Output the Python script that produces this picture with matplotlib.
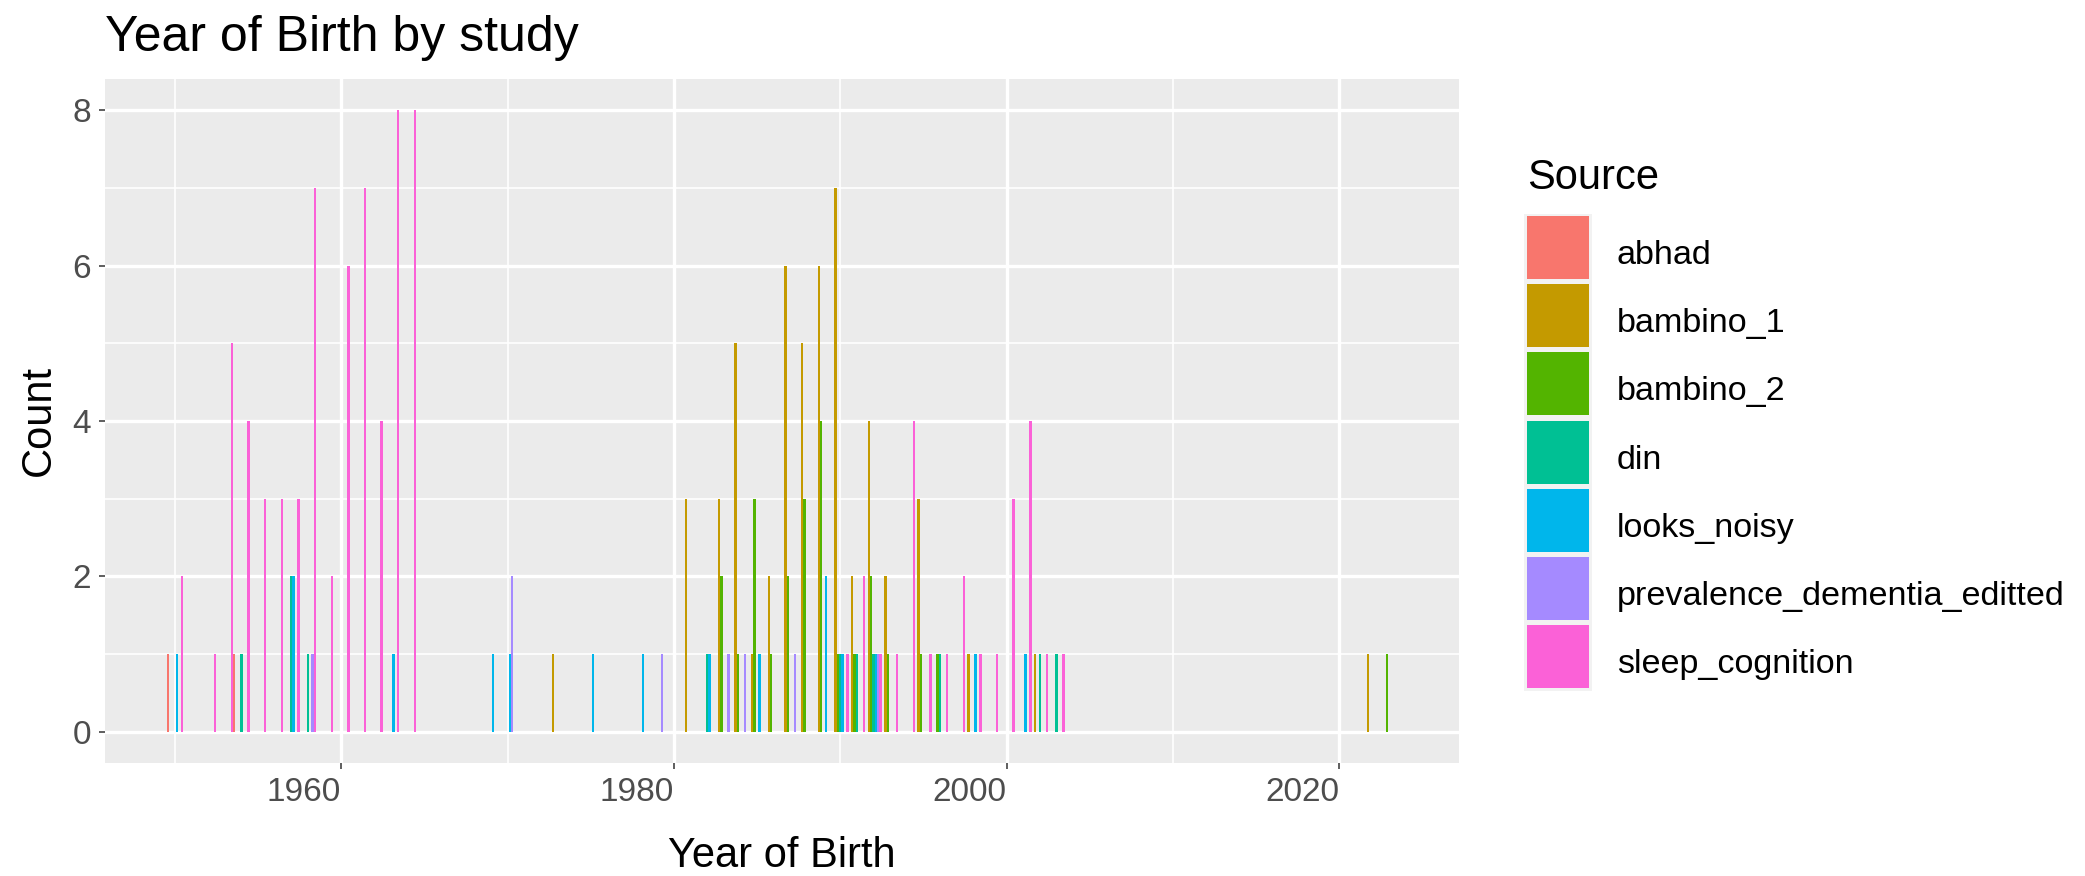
import numpy as np
import matplotlib
matplotlib.use('Agg')
import matplotlib.pyplot as plt
from matplotlib.patches import Rectangle

plt.rcParams['font.family'] = ['Liberation Sans', 'DejaVu Sans']

sources = ['abhad', 'bambino_1', 'bambino_2', 'din', 'looks_noisy',
           'prevalence_dementia_editted', 'sleep_cognition']
colors = ['#F8766D', '#C49A00', '#53B400', '#00C094', '#00B6EB', '#A58AFF', '#FB61D7']

# counts per year of birth, one pair of lists per source
abhad_years = [1950, 1954]
abhad_counts = [1, 1]

bambino1_years = [1973, 1981, 1983, 1984, 1985, 1986, 1987, 1988, 1989, 1990,
                  1991, 1992, 1993, 1995, 1998, 2002, 2022]
bambino1_counts = [1, 3, 3, 5, 1, 2, 6, 5, 6, 7, 2, 4, 2, 3, 1, 1, 1]

bambino2_years = [1983, 1984, 1985, 1986, 1987, 1988, 1989, 1990, 1991, 1992,
                  1993, 1995, 1996, 2023]
bambino2_counts = [2, 1, 3, 1, 2, 3, 4, 1, 1, 2, 1, 1, 1, 1]

din_years = [1954, 1957, 1958, 1982, 1990, 1991, 1992, 1996, 2002, 2003]
din_counts = [1, 2, 1, 1, 1, 1, 1, 1, 1, 1]

looks_years = [1950, 1957, 1963, 1969, 1970, 1975, 1978, 1982, 1985, 1989,
               1990, 1992, 1998, 2001]
looks_counts = [1, 2, 1, 1, 1, 1, 1, 1, 1, 2, 1, 1, 1, 1]

prev_years = [1958, 1970, 1979, 1983, 1984, 1987, 1992]
prev_counts = [1, 2, 1, 1, 1, 1, 1]

sleep_years = [1950, 1952, 1953, 1954, 1955, 1956, 1957, 1958, 1959, 1960,
               1961, 1962, 1963, 1964, 1990, 1991, 1992, 1993, 1994, 1995,
               1996, 1997, 1998, 1999, 2000, 2001, 2002, 2003]
sleep_counts = [2, 1, 5, 4, 3, 3, 3, 7, 2, 6,
                7, 4, 8, 8, 1, 2, 1, 1, 4, 1,
                1, 2, 1, 1, 3, 4, 1, 1]

series = [(abhad_years, abhad_counts), (bambino1_years, bambino1_counts),
          (bambino2_years, bambino2_counts), (din_years, din_counts),
          (looks_years, looks_counts), (prev_years, prev_counts),
          (sleep_years, sleep_counts)]

W, H = 2085, 876
fig = plt.figure(figsize=(W / 100, H / 100), dpi=100)
ax = fig.add_axes([105 / W, 1 - 763 / H, 1354 / W, 684 / H])
ax.set_facecolor('#EBEBEB')

# histogram with binwidth 1, dodged: each bin split into one slot per source
n = len(sources)
slot = 1 / n
for g, (years, counts) in enumerate(series):
    left = np.array(years) - 0.5 + g * slot
    ax.bar(left, counts, width=slot, align='edge', color=colors[g],
           linewidth=0, zorder=3)

all_years = [y for ys, _ in series for y in ys]
lo, hi = min(all_years) - 0.5, max(all_years) + 0.5
pad = 0.05 * (hi - lo)
ax.set_xlim(lo - pad, hi + pad)
ymax = max(max(c) for _, c in series)
ax.set_ylim(-0.05 * ymax, ymax * 1.05)

ax.set_xticks([1960, 1980, 2000, 2020])
ax.set_xticks([1950, 1970, 1990, 2010], minor=True)
ax.set_yticks([0, 2, 4, 6, 8])
ax.set_yticks([1, 3, 5, 7], minor=True)
ax.grid(which='major', color='white', linewidth=2.4, zorder=1)
ax.grid(which='minor', color='white', linewidth=1.2, zorder=1)
ax.set_axisbelow(True)
for s in ax.spines.values():
    s.set_visible(False)
ax.tick_params(which='major', length=4, width=1.1, color='#333333',
               labelsize=24, labelcolor='#4D4D4D', pad=6)
ax.tick_params(which='minor', length=0)
for lab in ax.get_xticklabels():
    lab.set_horizontalalignment('right')

ax.set_xlabel('Year of Birth', fontsize=30, labelpad=20)
ax.set_ylabel('Count', fontsize=30, labelpad=10)
fig.text(105 / W, 1 - 38 / H, 'Year of Birth by study', fontsize=36,
         ha='left', va='center')

# legend
fig.text(1527 / W, 1 - 178 / H, 'Source', fontsize=30, ha='left', va='center')
key_top, pitch, key_h, key_w = 216, 68.2, 63, 62
fig.add_artist(Rectangle((1524 / W, 1 - (key_top - 2 + n * pitch) / H),
                         (key_w + 6) / W, (n * pitch) / H,
                         transform=fig.transFigure, facecolor='#F2F2F2',
                         edgecolor='none'))
for i, (name, c) in enumerate(zip(sources, colors)):
    top = key_top + i * pitch
    fig.add_artist(Rectangle((1527 / W, 1 - (top + key_h) / H), key_w / W,
                             key_h / H, transform=fig.transFigure,
                             facecolor=c, edgecolor='none'))
    fig.text(1617 / W, 1 - (top + key_h / 2 + 8) / H, name, fontsize=24.6,
             ha='left', va='center')

fig.savefig('out.png', dpi=100)
